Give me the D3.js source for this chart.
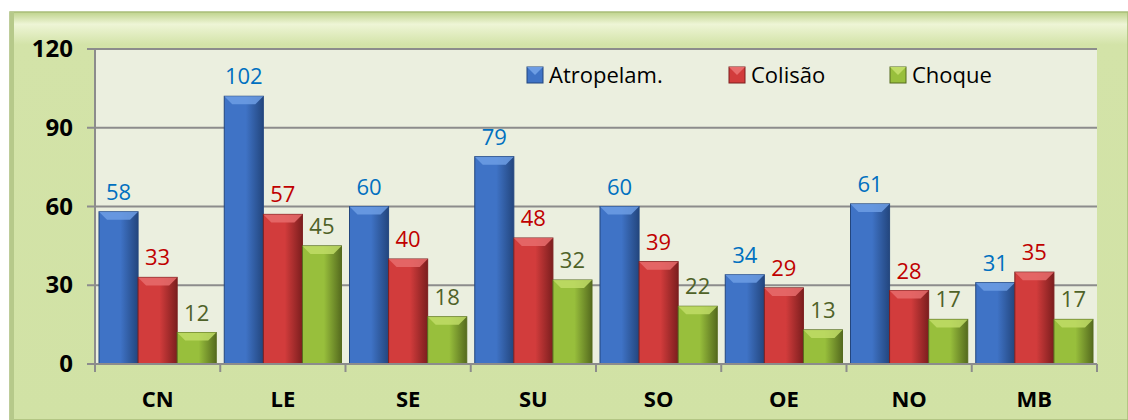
<!DOCTYPE html>
<html>
<head>
<meta charset="utf-8">
<script src="https://cdn.jsdelivr.net/npm/d3@7"></script>
<style>
  body { margin: 0; background: #fff; }
  text { font-family: "Open Sans", "DejaVu Sans", sans-serif; }
</style>
</head>
<body>
<script>
var svgWidth = 1128;
var svgHeight = 420;

var regions = ["CN", "LE", "SE", "SU", "SO", "OE", "NO", "MB"];
var seriesNames = ["Atropelam.", "Colisão", "Choque"];
var atropelam = [58, 102, 60, 79, 60, 34, 61, 31];
var colisao = [33, 57, 40, 48, 39, 29, 28, 35];
var choque = [12, 45, 18, 32, 22, 13, 17, 17];
var yTicks = [0, 30, 60, 90, 120];

var barColors = [
  { light: "#6d9de4", main: "#3f73c6", dark: "#23467e" },
  { light: "#e86c6c", main: "#d23c3c", dark: "#7c1e1e" },
  { light: "#c0dc66", main: "#98bf3c", dark: "#556b1e" }
];
var labelColors = ["#0070c0", "#c00000", "#4f6228"];

var margin = { top: 49, right: 31, bottom: 56, left: 95 };
var width = svgWidth - margin.left - margin.right;
var height = svgHeight - margin.top - margin.bottom;

var svg = d3.select("body")
  .append("svg")
  .attr("width", svgWidth)
  .attr("height", svgHeight);

var defs = svg.append("defs");

var frameGrad = defs.append("linearGradient")
  .attr("id", "frameGrad")
  .attr("x1", 0).attr("y1", 0).attr("x2", 0).attr("y2", 1);
frameGrad.append("stop").attr("offset", "0").attr("stop-color", "#bfd38c");
frameGrad.append("stop").attr("offset", "0.03").attr("stop-color", "#eef5d6");
frameGrad.append("stop").attr("offset", "0.08").attr("stop-color", "#d3e3a8");
frameGrad.append("stop").attr("offset", "1").attr("stop-color", "#d1e2a5");

barColors.forEach(function(c, i) {
  var g = defs.append("linearGradient")
    .attr("id", "bar" + i)
    .attr("x1", 0).attr("y1", 0).attr("x2", 1).attr("y2", 0);
  g.append("stop").attr("offset", "0").attr("stop-color", c.main);
  g.append("stop").attr("offset", "0.55").attr("stop-color", c.main);
  g.append("stop").attr("offset", "1").attr("stop-color", c.dark);
});

// outer frame
svg.append("rect")
  .attr("x", 10).attr("y", 12)
  .attr("width", svgWidth - 10).attr("height", svgHeight - 12)
  .attr("fill", "url(#frameGrad)")
  .attr("stroke", "#a9bd7a")
  .attr("stroke-width", 1.5);

svg.append("rect")
  .attr("x", 10).attr("y", 12)
  .attr("width", 4).attr("height", svgHeight - 12)
  .attr("fill", "#b6c98a");

var chartGroup = svg.append("g")
  .attr("transform", `translate(${margin.left}, ${margin.top})`);

chartGroup.append("rect")
  .attr("width", width).attr("height", height)
  .attr("fill", "#ebefdf");

var xScale = d3.scaleBand()
  .domain(regions)
  .range([0, width]);

var series = [atropelam, colisao, choque];

var xInner = d3.scaleBand()
  .domain(d3.range(series.length))
  .range([4, xScale.bandwidth() - 4]);

var yScale = d3.scaleLinear()
  .domain([0, 120])
  .range([height, 0]);

// gridlines
chartGroup.append("g")
  .selectAll("line")
  .data(yTicks)
  .enter()
  .append("line")
  .attr("x1", -8).attr("x2", width)
  .attr("y1", d => yScale(d)).attr("y2", d => yScale(d))
  .attr("stroke", "#8c8c8c")
  .attr("stroke-width", 2);

var leftAxis = d3.axisLeft(yScale).tickValues(yTicks).tickSize(0).tickPadding(22);
var yAxis = chartGroup.append("g").call(leftAxis);
yAxis.select(".domain").remove();
yAxis.selectAll("text")
  .attr("font-size", 24)
  .attr("font-weight", "bold")
  .attr("fill", "#000")
  .style("font-family", "'Open Sans', sans-serif");

chartGroup.append("line")
  .attr("x1", 0).attr("x2", 0)
  .attr("y1", 0).attr("y2", height + 8)
  .attr("stroke", "#8c8c8c").attr("stroke-width", 2);

// bars
var groups = chartGroup.selectAll(".region")
  .data(regions)
  .enter()
  .append("g")
  .attr("transform", d => `translate(${xScale(d)}, 0)`);

groups.each(function(region, ri) {
  var g = d3.select(this);
  series.forEach(function(values, si) {
    var v = values[ri];
    var x = xInner(si);
    var w = xInner.bandwidth();
    var y = yScale(v);
    var h = height - y;
    var c = barColors[si];
    g.append("rect")
      .attr("x", x).attr("y", y)
      .attr("width", w).attr("height", h)
      .attr("fill", "url(#bar" + si + ")")
      .attr("stroke", c.dark)
      .attr("stroke-width", 1);
    // bevel top
    var b = Math.min(8, h / 2);
    g.append("path")
      .attr("d", `M${x},${y} L${x + w},${y} L${x + w - b},${y + b} L${x + b},${y + b} Z`)
      .attr("fill", c.light)
      .attr("opacity", 0.85);
    g.append("text")
      .attr("x", x + w / 2)
      .attr("y", y - 12)
      .attr("text-anchor", "middle")
      .attr("font-size", 22)
      .attr("fill", labelColors[si])
      .text(v);
  });
});

// bottom axis
chartGroup.append("line")
  .attr("x1", 0).attr("x2", width)
  .attr("y1", height).attr("y2", height)
  .attr("stroke", "#8c8c8c").attr("stroke-width", 2);

var bottomAxis = d3.axisBottom(xScale).tickSize(0).tickPadding(27);
var xAxis = chartGroup.append("g")
  .attr("transform", `translate(0, ${height})`)
  .call(bottomAxis);
xAxis.select(".domain").remove();
xAxis.selectAll("text")
  .attr("font-size", 22)
  .attr("font-weight", "bold")
  .attr("fill", "#000")
  .style("font-family", "'Open Sans', sans-serif");

chartGroup.append("g")
  .selectAll("line")
  .data(regions.concat(["end"]))
  .enter()
  .append("line")
  .attr("x1", (d, i) => i * xScale.bandwidth())
  .attr("x2", (d, i) => i * xScale.bandwidth())
  .attr("y1", height).attr("y2", height + 8)
  .attr("stroke", "#8c8c8c").attr("stroke-width", 2);

// legend
var legendX = [527, 729, 890];
var legend = svg.append("g");
seriesNames.forEach(function(name, i) {
  var c = barColors[i];
  legend.append("rect")
    .attr("x", legendX[i]).attr("y", 67)
    .attr("width", 16).attr("height", 16)
    .attr("fill", c.main).attr("stroke", c.dark);
  legend.append("path")
    .attr("d", `M${legendX[i]},67 L${legendX[i] + 16},67 L${legendX[i] + 8},75 Z`)
    .attr("fill", c.light);
  legend.append("text")
    .attr("x", legendX[i] + 22).attr("y", 83)
    .attr("font-size", 22)
    .attr("fill", "#000")
    .text(name);
});
</script>
</body>
</html>
